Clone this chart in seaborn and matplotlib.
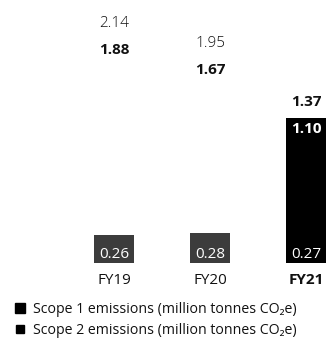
import matplotlib
matplotlib.use("Agg")
import matplotlib.pyplot as plt
from matplotlib.lines import Line2D
import seaborn as sns
import pandas as pd

years = ["FY19", "FY20", "FY21"]
scope1 = [0.26, 0.28, 0.27]
scope2 = [1.88, 1.67, 1.10]
totals = [2.14, 1.95, 1.37]
legend_labels = [
    "Scope 1 emissions (million tonnes CO\u2082e)",
    "Scope 2 emissions (million tonnes CO\u2082e)",
]

sns.set_style("white")
plt.rcParams["font.family"] = ["Open Sans", "DejaVu Sans"]

df = pd.DataFrame({"year": years, "scope1": scope1, "scope2": scope2, "total": totals})

fig = plt.figure(figsize=(3.27, 3.40), dpi=100)
ax = fig.add_axes([0, 77 / 340, 1, 263 / 340])

top_colors = ["white", "white", "black"]
bot_colors = ["#3c3c3c", "#3c3c3c", "black"]

sns.barplot(data=df, x="year", y="total", hue="year", palette=top_colors,
            width=0.42, legend=False, ax=ax, saturation=1, linewidth=0)
sns.barplot(data=df, x="year", y="scope1", hue="year", palette=bot_colors,
            width=0.42, legend=False, ax=ax, saturation=1, linewidth=0)

ax.set_xlim(-1.19, 2.22)
ax.set_ylim(0, 2.486)
ax.set_xlabel("")
ax.set_ylabel("")
ax.set_yticks([])
for s in ax.spines.values():
    s.set_visible(False)

ax.set_xticks(range(len(years)))
ax.set_xticklabels(years, fontsize=11)
ax.tick_params(axis="x", length=0, pad=7, colors="#111111")
ax.get_xticklabels()[-1].set_fontweight("bold")

for i, (t, s1, s2) in enumerate(zip(totals, scope1, scope2)):
    last = i == len(years) - 1
    ax.annotate(f"{t:.2f}", (i, t), xytext=(0, 13 if not last else 16),
                textcoords="offset pixels", ha="center", va="center",
                fontsize=11, fontweight="bold" if last else "light",
                color="#111111")
    ax.annotate(f"{s2:.2f}", (i, t), xytext=(0, -13 if not last else -11),
                textcoords="offset pixels", ha="center", va="center",
                fontsize=11, fontweight="bold",
                color="white" if last else "#111111")
    ax.annotate(f"{s1:.2f}", (i, 0), xytext=(0, 9),
                textcoords="offset pixels", ha="center", va="center",
                fontsize=11, fontweight="normal", color="white")

handles = [
    Line2D([], [], marker="s", color="black", linestyle="", markersize=7.5),
    Line2D([], [], marker="s", color="black", linestyle="", markersize=5.5),
]
fig.legend(handles, legend_labels, loc="upper left",
           bbox_to_anchor=(13 / 327, 1 - 302 / 340), frameon=False,
           fontsize=10.2, handlelength=1.0, handletextpad=0.42,
           labelspacing=0.42, borderaxespad=0, borderpad=0,
           labelcolor="#111111")

fig.savefig("out.png", dpi=100)
